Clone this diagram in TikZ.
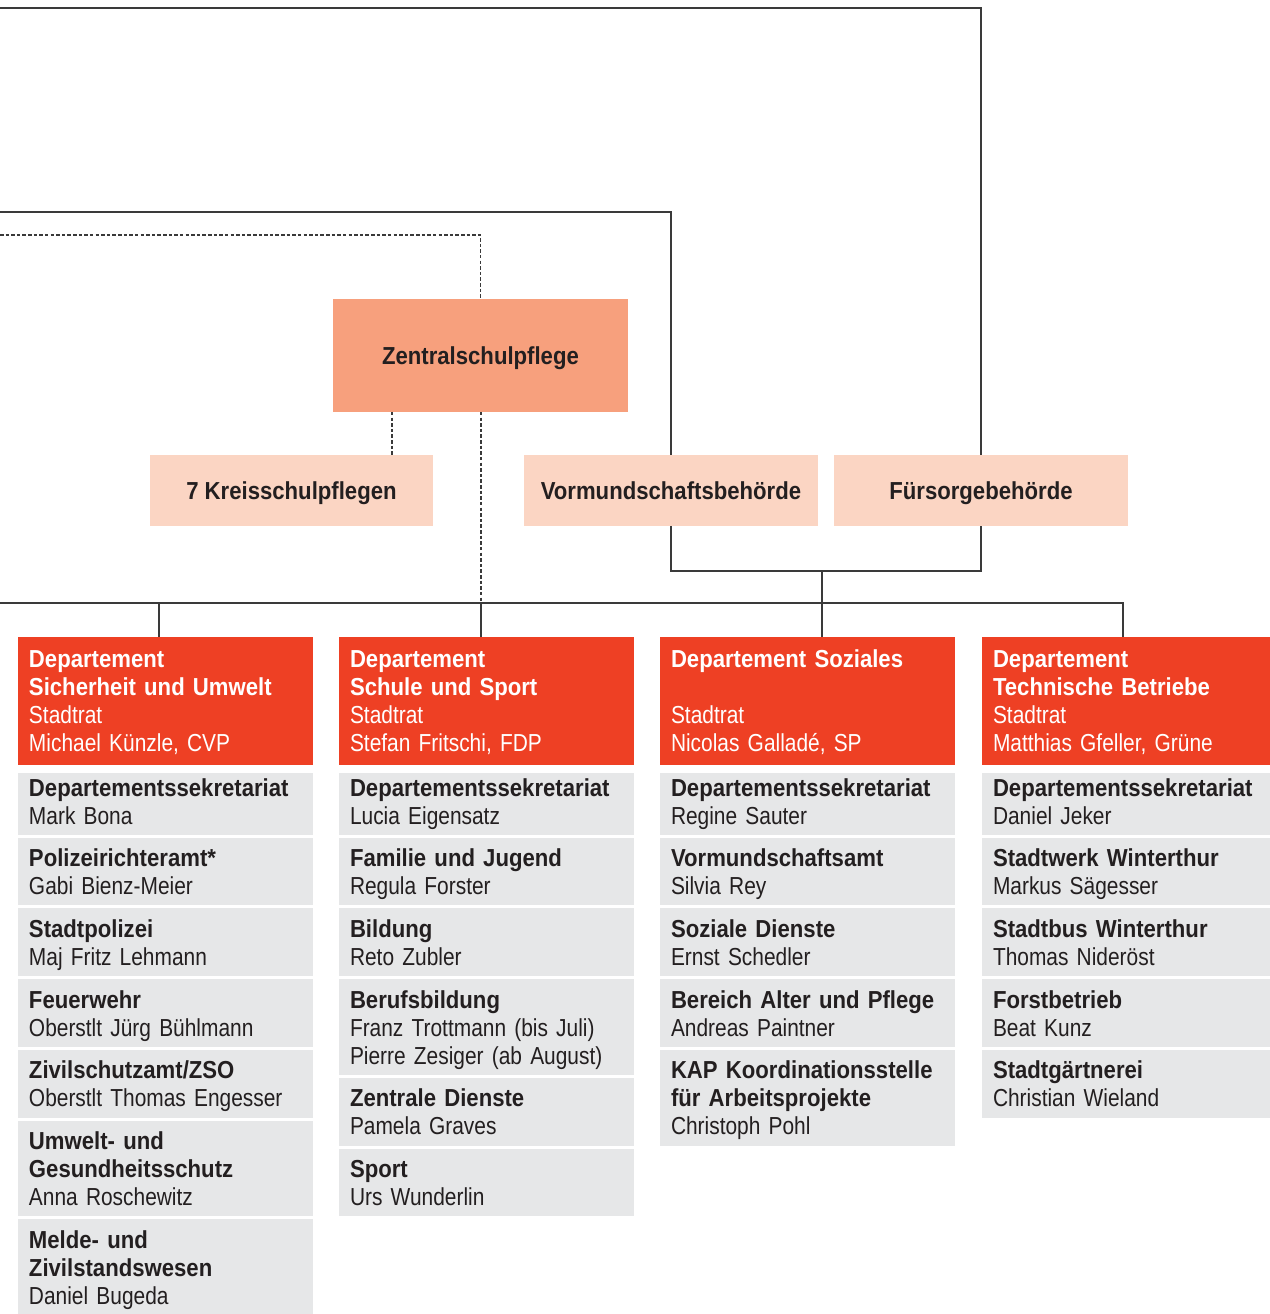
\documentclass[tikz,border=0pt]{standalone}
\usepackage{fontspec}
\setmainfont{Liberation Sans}[UprightFeatures={FakeStretch=0.85}, BoldFeatures={FakeStretch=0.9}]
\usepackage{tikz}
\usetikzlibrary{positioning}

\definecolor{deptred}{HTML}{EE4024}
\definecolor{zspfill}{HTML}{F7A07D}
\definecolor{lightfill}{HTML}{FBD5C3}
\definecolor{greyfill}{HTML}{E6E7E8}
\definecolor{linegrey}{HTML}{3A3A3A}
\definecolor{textdark}{HTML}{231F20}

\newcommand{\orgfont}{\fontsize{14pt}{15.93pt}\selectfont}
% struts for first and last lines
\newcommand{\hs}{\rule{0pt}{16.5pt}}
\newcommand{\hsa}{\rule{0pt}{13.1pt}}
\newcommand{\ds}{\rule[-6.1pt]{0pt}{6.1pt}}
\newcommand{\hd}{\rule{0pt}{17.1pt}}
\newcommand{\dd}{\rule[-8pt]{0pt}{8pt}}

\begin{document}
\begin{tikzpicture}[x=0.02cm,y=-0.02cm]
\tikzstyle{every node}=[font=\orgfont, outer sep=0pt]
\tikzstyle{conn}=[draw=linegrey, line width=0.75pt]
\tikzstyle{dsh}=[conn, dash pattern=on 2pt off 1.2pt]
\tikzstyle{board}=[fill=zspfill, text=textdark, font=\orgfont\bfseries, text height=10pt, text depth=0pt, minimum width=5.9cm, minimum height=2.26cm, inner sep=0pt, anchor=north west]
\tikzstyle{authority}=[fill=lightfill, text=textdark, font=\orgfont\bfseries, text height=10pt, text depth=0pt, minimum width=5.88cm, minimum height=1.42cm, inner sep=0pt, anchor=north west]
\tikzstyle{dept}=[fill=deptred, text=white, text width=5.46cm, inner xsep=0.22cm, inner ysep=0pt, align=left, anchor=north west]
\tikzstyle{unit}=[fill=greyfill, text=textdark, text width=5.46cm, inner xsep=0.22cm, inner ysep=0pt, align=left]
\useasboundingbox (0,0) rectangle (1270,1314);

% Behoerden
\node[board] (zsp) at (333,299) {Zentralschulpflege};
\node[authority, minimum width=5.66cm] (ksp) at (150,455) {7 Kreisschulpflegen};
\node[authority] (vmb) at (524,455) {Vormundschaftsbehörde};
\node[authority] (fsb) at (834,455) {Fürsorgebehörde};

% Departemente
\node[dept] (dsu) at (18,637) {\hd\textbf{Departement}\\\textbf{Sicherheit und Umwelt}\\Stadtrat\\Michael Künzle, CVP\dd};
\node[dept] (dss) at (339,637) {\hd\textbf{Departement}\\\textbf{Schule und Sport}\\Stadtrat\\Stefan Fritschi, FDP\dd};
\node[dept] (dso) at (660,637) {\hd\textbf{Departement Soziales}\\\mbox{}\\Stadtrat\\Nicolas Galladé, SP\dd};
\node[dept] (dtb) at (982,637) {\hd\textbf{Departement}\\\textbf{Technische Betriebe}\\Stadtrat\\Matthias Gfeller, Grüne\dd};

% Sicherheit und Umwelt
\node[unit, below=0.16cm of dsu] (su1) {\hsa\textbf{Departementssekretariat}\\Mark Bona\ds};
\node[unit, below=0.06cm of su1] (su2) {\hs\textbf{Polizeirichteramt*}\\Gabi Bienz-Meier\ds};
\node[unit, below=0.06cm of su2] (su3) {\hs\textbf{Stadtpolizei}\\Maj Fritz Lehmann\ds};
\node[unit, below=0.06cm of su3] (su4) {\hs\textbf{Feuerwehr}\\Oberstlt Jürg Bühlmann\ds};
\node[unit, below=0.06cm of su4] (su5) {\hs\textbf{Zivilschutzamt/ZSO}\\Oberstlt Thomas Engesser\ds};
\node[unit, below=0.06cm of su5] (su6) {\hs\textbf{Umwelt- und}\\\textbf{Gesundheitsschutz}\\Anna Roschewitz\ds};
\node[unit, below=0.06cm of su6] (su7) {\hs\textbf{Melde- und}\\\textbf{Zivilstandswesen}\\Daniel Bugeda\ds};

% Schule und Sport
\node[unit, below=0.16cm of dss] (ss1) {\hsa\textbf{Departementssekretariat}\\Lucia Eigensatz\ds};
\node[unit, below=0.06cm of ss1] (ss2) {\hs\textbf{Familie und Jugend}\\Regula Forster\ds};
\node[unit, below=0.06cm of ss2] (ss3) {\hs\textbf{Bildung}\\Reto Zubler\ds};
\node[unit, below=0.06cm of ss3] (ss4) {\hs\textbf{Berufsbildung}\\Franz Trottmann (bis Juli)\\Pierre Zesiger (ab August)\ds};
\node[unit, below=0.06cm of ss4] (ss5) {\hs\textbf{Zentrale Dienste}\\Pamela Graves\ds};
\node[unit, below=0.06cm of ss5] (ss6) {\hs\textbf{Sport}\\Urs Wunderlin\ds};

% Soziales
\node[unit, below=0.16cm of dso] (so1) {\hsa\textbf{Departementssekretariat}\\Regine Sauter\ds};
\node[unit, below=0.06cm of so1] (so2) {\hs\textbf{Vormundschaftsamt}\\Silvia Rey\ds};
\node[unit, below=0.06cm of so2] (so3) {\hs\textbf{Soziale Dienste}\\Ernst Schedler\ds};
\node[unit, below=0.06cm of so3] (so4) {\hs\textbf{Bereich Alter und Pflege}\\Andreas Paintner\ds};
\node[unit, below=0.06cm of so4] (so5) {\hs\textbf{KAP Koordinationsstelle}\\\textbf{für Arbeitsprojekte}\\Christoph Pohl\ds};

% Technische Betriebe
\node[unit, below=0.16cm of dtb] (st1) {\hsa\textbf{Departementssekretariat}\\Daniel Jeker\ds};
\node[unit, below=0.06cm of st1] (st2) {\hs\textbf{Stadtwerk Winterthur}\\Markus Sägesser\ds};
\node[unit, below=0.06cm of st2] (st3) {\hs\textbf{Stadtbus Winterthur}\\Thomas Nideröst\ds};
\node[unit, below=0.06cm of st3] (st4) {\hs\textbf{Forstbetrieb}\\Beat Kunz\ds};
\node[unit, below=0.06cm of st4] (st5) {\hs\textbf{Stadtgärtnerei}\\Christian Wieland\ds};

% Linien
\coordinate (l1) at (0,8);
\coordinate (l2) at (0,212);
\coordinate (l3) at (0,235);
\coordinate (l4) at (0,603);
\coordinate (kt) at (392,455);
\coordinate (brk) at (822,571);
\coordinate (t1) at (159,637);
\coordinate (t2) at (481,637);
\coordinate (t3) at (822,637);
\coordinate (t4) at (1123,637);
\draw[conn] (l1) -| (fsb.north);
\draw[conn] (l2) -| (vmb.north);
\draw[dsh] (l3) -| (zsp.north);
\draw[dsh] (zsp.south -| kt) -- (kt);
\draw[dsh] (zsp.south -| t2) -- (t2 |- l4);
\draw[conn] (vmb.south) |- (brk) -| (fsb.south);
\draw[conn] (l4) -| (t4);
\draw[conn] (t1 |- l4) -- (t1);
\draw[conn] (t2 |- l4) -- (t2);
\draw[conn] (brk) -- (t3);

\end{tikzpicture}
\end{document}
